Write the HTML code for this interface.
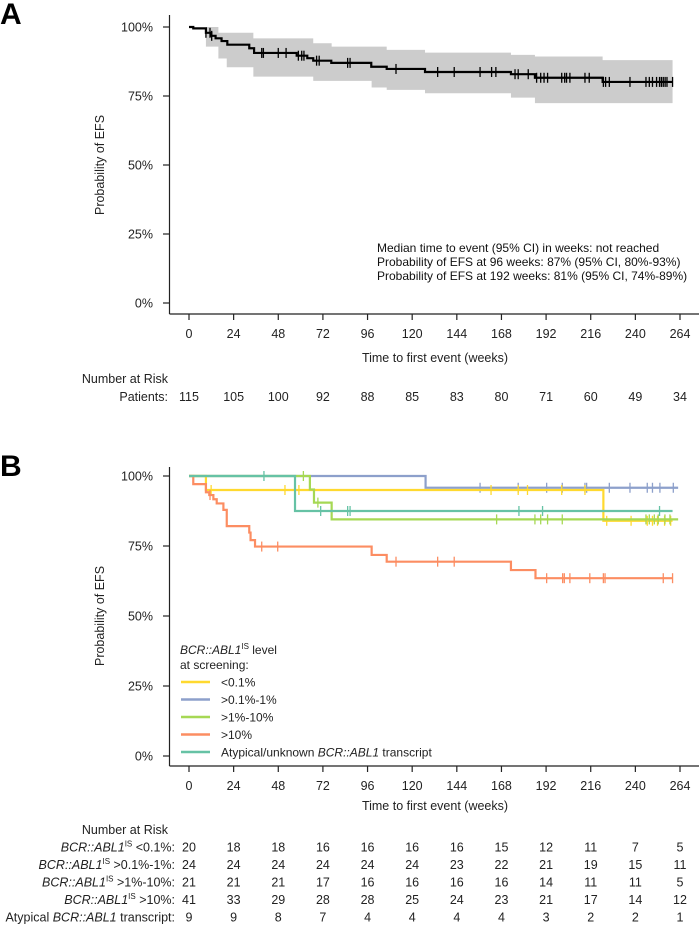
<!DOCTYPE html>
<html><head><meta charset="utf-8"><style>
body{margin:0;background:#fff}
svg{display:block;font-family:"Liberation Sans",Arial,sans-serif}
</style></head><body>
<svg id="fig" width="700" height="926" viewBox="0 0 700 926" xmlns="http://www.w3.org/2000/svg">
<text x="0" y="24" font-size="30" font-weight="bold">A</text>
<text x="0" y="476" font-size="30" font-weight="bold">B</text>
<g id="gA"></g>
<g id="gB"></g>
</svg>
<script>
// ---- shared axis data ----
const xTicks = [0,24,48,72,96,120,144,168,192,216,240,264];
const yTicks = [0,25,50,75,100];
// ---- Panel A data ----
const aStepWeeks = [0,2.3,9.1,12,14.3,17.5,20.6,32.4,35,57.9,63.6,66.8,76.5,98,106.3,126.9,173.1,186,222.4,260];
const aStepPct   = [100,99.5,97.9,96.8,95.9,94.9,93.6,92.3,90.6,89.6,88.7,87.8,87.0,85.6,84.8,83.7,82.9,81.6,80.1,80.1];
const aBandWeeks = [9.1,15.8,20.3,34.6,66.8,76.7,98.2,106.3,126.9,173.1,186,222.4,260];
const aBandUpper = [100,97.9,97.9,95.9,94.1,92.9,92.9,91.7,90.7,89.9,89.3,88.0,88.0];
const aBandLower = [95.5,92.9,88.6,85.4,82.0,80.5,80.5,78.1,77.2,76.0,74.4,72.4,72.4];
const aCensor = [9.1,11.3,12.2,39.1,40,48,52.2,58.8,60.6,61.8,68.6,70,85.3,86.6,111.3,133.7,142.6,156.5,162.7,165,175.3,177,182.4,186.9,189.1,190.9,192.8,200.4,202,203,204.8,212.9,215.2,222.8,224,226,237.1,245.7,247.5,249.2,251.4,253,254,255,256,257,260];
const aRisk = [115,105,100,92,88,85,83,80,71,60,49,34];
// ---- Panel B data ----
const bNames = ["<0.1%",">0.1%-1%",">1%-10%",">10%","atypical"];
const bColors = ["#FFD92F","#8DA0CB","#A6D854","#FC8D62","#66C2A5"];
const yellowWeeks = [0,9.1,222.8,260];
const yellowPct   = [100,95,84,84];
const yellowCensor = [11.9,51.6,59.1,162.4,177,182,200.4,212.9,224.6,237.7,246.4,249.2,251.9,255.7,259];
const blueWeeks = [0,127.2,263];
const bluePct   = [100,95.8,95.8];
const blueCensor = [156.5,177,192.3,200.7,212.9,213.8,226,237.1,246.4,249.2,253.2,260.4];
const greenWeeks = [0,65,67.2,76.7,263];
const greenPct   = [100,95.2,90.5,84.5,84.5];
const greenCensor = [61.5,69.3,165.4,186,189.1,192.8,200.7,245.7,247.5,250.2,252.3,255.9,258.6];
const orangeWeeks = [0,2.3,9.1,10.9,13.1,14.9,18.5,20.3,32.4,33.1,35.5,98.2,106.3,173.1,186.3,260];
const orangePct   = [100,97.1,94.2,93.2,91.7,90.2,87.9,82.1,79.8,77.1,74.8,71.8,69.4,66.4,63.5,63.5];
const orangeCensor = [11.3,39.1,47.7,111.3,133.7,142.6,192.3,200.9,201.8,204.8,215.5,222.8,223.7,255,260];
const tealWeeks = [0,57,260];
const tealPct   = [100,87.5,87.5];
const tealCensor = [40.3,70.8,85.3,86.6,177.4,190.1,253];
const riskLow = [20,18,18,16,16,16,16,15,12,11,7,5];
const riskMid = [24,24,24,24,24,24,23,22,21,19,15,11];
const riskHigh = [21,21,21,17,16,16,16,16,14,11,11,5];
const riskVHigh = [41,33,29,28,28,25,24,23,21,17,14,12];
const riskAtyp = [9,9,8,7,4,4,4,4,3,2,2,1];

const NS = "http://www.w3.org/2000/svg";
function mk(parent, tag, attrs, txt){const e=document.createElementNS(NS,tag);for(const k in attrs)e.setAttribute(k,attrs[k]);if(txt!==undefined)e.textContent=txt;parent.appendChild(e);return e;}
const xS = w => 189 + w*(491/264);
function yA(p){return 303 - p*2.76;}
function yB(p){return 756 - p*2.8;}

function axes(g, yFn, axTop, axBot, label){
  const ax = mk(g,'g',{});
  
  
  mk(ax,'line',{x1:169.5,y1:axTop,x2:169.5,y2:axBot,stroke:'#222','stroke-width':1.2});
  mk(ax,'line',{x1:169.5,y1:axBot,x2:699,y2:axBot,stroke:'#222','stroke-width':1.2});
  yTicks.forEach(t=>{
    const y=yFn(t);
    mk(ax,'line',{x1:163,y1:y,x2:169.5,y2:y,stroke:'#222','stroke-width':1.2});
    const tl=mk(ax,'text',{x:153,y:y+4.5,'font-size':12.5,'text-anchor':'end',fill:'#222'},t+'%');
    
    
  });
  xTicks.forEach(t=>{
    const x=xS(t);
    mk(ax,'line',{x1:x,y1:axBot,x2:x,y2:axBot+6,stroke:'#222','stroke-width':1.2});
    const tl=mk(ax,'text',{x:x,y:axBot+24,'font-size':12.5,'text-anchor':'middle',fill:'#222'},String(t));
    
    
  });
}
function stepPath(ws,ps,yFn){
  let d='M'+xS(ws[0])+','+yFn(ps[0]);
  for(let i=1;i<ws.length;i++){d+=' H'+xS(ws[i])+' V'+yFn(ps[i]);}
  return d;
}
function censors(g,ws,pw,pp,yFn,color,h){
  ws.forEach(w=>{
    let p=pp[0];
    for(let i=0;i<pw.length;i++){ if(pw[i]<=w) p=pp[i]; }
    const c=mk(g,'line',{x1:xS(w),x2:xS(w),y1:yFn(p)-h,y2:yFn(p)+h,stroke:color,'stroke-width':1.3});
    
    
  });
}

// ---- Panel A ----
const gA=document.getElementById('gA');
axes(gA,yA,15,314,'panel-a');
let yt=mk(gA,'text',{transform:'translate(104,165) rotate(-90)','font-size':12.5,'text-anchor':'middle',fill:'#222'},'Probability of EFS');


let xt=mk(gA,'text',{x:435,y:362,'font-size':12.5,'text-anchor':'middle',fill:'#222'},'Time to first event (weeks)');


let bd='M'+xS(aBandWeeks[0])+','+yA(aBandUpper[0]);
for(let i=1;i<aBandWeeks.length;i++){bd+=' H'+xS(aBandWeeks[i])+' V'+yA(aBandUpper[i]);}
for(let i=aBandWeeks.length-1;i>=1;i--){bd+=' V'+yA(aBandLower[i])+' H'+xS(aBandWeeks[i-1]);}
bd+=' V'+yA(aBandLower[0])+' Z';
const band=mk(gA,'path',{d:bd,fill:'#cccccc'});


const curveA=mk(gA,'path',{d:stepPath(aStepWeeks,aStepPct,yA),fill:'none',stroke:'#000','stroke-width':2.2});


censors(gA,aCensor,aStepWeeks,aStepPct,yA,'#000',5);
['Median time to event (95% CI) in weeks: not reached','Probability of EFS at 96 weeks: 87% (95% CI, 80%-93%)','Probability of EFS at 192 weeks: 81% (95% CI, 74%-89%)'].forEach((s,i)=>{
  const t=mk(gA,'text',{x:377,y:252+i*14,'font-size':12,fill:'#111'},s);
  
  
});
let nr=mk(gA,'text',{x:168,y:383,'font-size':12.5,'text-anchor':'end',fill:'#222'},'Number at Risk');


let pl=mk(gA,'text',{x:168,y:401,'font-size':12.5,'text-anchor':'end',fill:'#222'},'Patients:');


aRisk.forEach((v,i)=>{
  const t=mk(gA,'text',{x:xS(xTicks[i]),y:401,'font-size':12.5,'text-anchor':'middle',fill:'#222'},String(v));
  
  
});

// ---- Panel B ----
const gB=document.getElementById('gB');
axes(gB,yB,467,766,'panel-b');
yt=mk(gB,'text',{transform:'translate(104,616) rotate(-90)','font-size':12.5,'text-anchor':'middle',fill:'#222'},'Probability of EFS');


xt=mk(gB,'text',{x:435,y:810,'font-size':12.5,'text-anchor':'middle',fill:'#222'},'Time to first event (weeks)');


const series=[
 {w:blueWeeks,p:bluePct,c:blueCensor,col:bColors[1],n:'curve-0.1-1'},
 {w:yellowWeeks,p:yellowPct,c:yellowCensor,col:bColors[0],n:'curve-under-0.1'},
 {w:greenWeeks,p:greenPct,c:greenCensor,col:bColors[2],n:'curve-1-10'},
 {w:orangeWeeks,p:orangePct,c:orangeCensor,col:bColors[3],n:'curve-over-10'},
 {w:tealWeeks,p:tealPct,c:tealCensor,col:bColors[4],n:'curve-atypical'}];
series.forEach(s=>{
  const g=mk(gB,'g',{});
  
  
  mk(g,'path',{d:stepPath(s.w,s.p,yB),fill:'none',stroke:s.col,'stroke-width':2.2});
  censors(g,s.c,s.w,s.p,yB,s.col,5);
});
const lg=mk(gB,'g',{});


const lt=mk(lg,'text',{x:180,y:654,'font-size':12,fill:'#222'});
mk(lt,'tspan',{'font-style':'italic'},'BCR::ABL1');
mk(lt,'tspan',{'font-size':8,dy:-5},'IS');
mk(lt,'tspan',{dy:5},' level');
mk(lg,'text',{x:180,y:669,'font-size':12,fill:'#222'},'at screening:');
const legLabels=['<0.1%','>0.1%-1%','>1%-10%','>10%'];
[0,1,2,3,4].forEach(i=>{
  const y=682+i*17.5;
  const e=mk(lg,'g',{});
  
  
  mk(e,'line',{x1:181,x2:210,y1:y,y2:y,stroke:bColors[i],'stroke-width':2.5});
  if(i<4){mk(e,'text',{x:221,y:y+4.5,'font-size':12,fill:'#222'},legLabels[i]);}
  else{const t=mk(e,'text',{x:221,y:y+4.5,'font-size':12,fill:'#222'});
    mk(t,'tspan',{},'Atypical/unknown ');mk(t,'tspan',{'font-style':'italic'},'BCR::ABL1');mk(t,'tspan',{},' transcript');}
});
nr=mk(gB,'text',{x:168,y:834,'font-size':12.5,'text-anchor':'end',fill:'#222'},'Number at Risk');


const rows=[riskLow,riskMid,riskHigh,riskVHigh,riskAtyp];
const rowLbl=['<0.1%:','>0.1%-1%:','>1%-10%:','>10%:'];
rows.forEach((r,ri)=>{
  const y=851.5+ri*17.5;
  const t=mk(gB,'text',{x:175,y:y,'font-size':12.5,'text-anchor':'end',fill:'#222'});
  
  
  if(ri<4){mk(t,'tspan',{'font-style':'italic'},'BCR::ABL1');mk(t,'tspan',{'font-size':8,dy:-5},'IS');mk(t,'tspan',{dy:5},' '+rowLbl[ri]);}
  else{mk(t,'tspan',{},'Atypical ');mk(t,'tspan',{'font-style':'italic'},'BCR::ABL1');mk(t,'tspan',{},' transcript:');}
  r.forEach((v,i)=>{
    const c=mk(gB,'text',{x:xS(xTicks[i]),y:y,'font-size':12.5,'text-anchor':'middle',fill:'#222'},String(v));
    
    
  });
});
</script>
</body></html>
